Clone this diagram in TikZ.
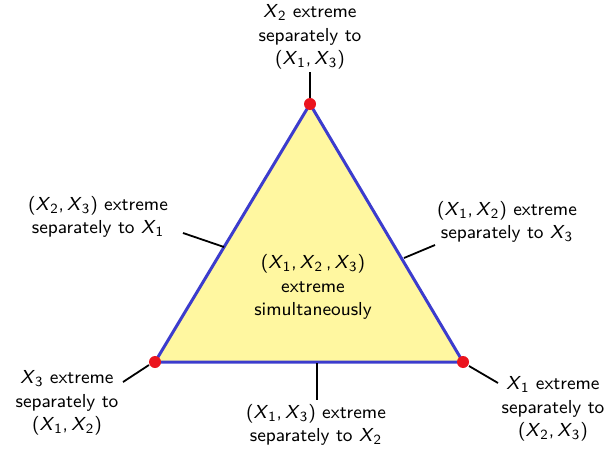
\documentclass[tikz,border=0pt]{standalone}
\usepackage{tikz}
\newcommand{\xx}[1]{\textit{X}$_{\mathsf{#1}}$}
\definecolor{triyellow}{RGB}{255,247,160}
\definecolor{triblue}{RGB}{60,60,205}
\definecolor{dotred}{RGB}{235,20,30}
\begin{document}
\begin{tikzpicture}[x=0.5pt,y=-0.5pt,
  every node/.style={font=\sffamily\fontsize{9.4}{11.6}\selectfont},
  lbl/.style={align=center,inner sep=0pt},
  conn/.style={draw=black,line width=0.9pt},
  tri/.style={draw=triblue,fill=triyellow,line width=1.5pt,line join=miter},
  dot/.style={circle,fill=dotred,inner sep=0pt,minimum size=6pt}]
\useasboundingbox (0,0) rectangle (609,454);
\coordinate (T) at (310,104);
\coordinate (L) at (155,362);
\coordinate (R) at (463,362);
\draw[tri] (T) -- (R) -- (L) -- cycle;
% edge anchor points
\coordinate (eL) at (224,247);
\coordinate (eR) at (404,258);
\coordinate (eB) at (317,363);
\coordinate (cT) at (310,72);
\coordinate (cL) at (183,233);
\coordinate (cR) at (435,245);
\coordinate (cB) at (317,400);
\coordinate (cBL) at (123,382);
\coordinate (cBR) at (498,383);
\coordinate (dT) at (310,98);
\coordinate (dL) at (149,365);
\coordinate (dR) at (469,366);
\draw[conn] (dT) -- (cT);
\draw[conn] (eL) -- (cL);
\draw[conn] (eR) -- (cR);
\draw[conn] (eB) -- (cB);
\draw[conn] (dL) -- (cBL);
\draw[conn] (dR) -- (cBR);
\node[dot] (vT) at (T) {};
\node[dot] (vL) at (L) {};
\node[dot] (vR) at (R) {};
% labels
\node[lbl] (tT) at (310,37) {\xx2 extreme\\separately to\\(\xx1,\,\xx3)};
\node[lbl] (tL) at (98,217) {(\xx2,\,\xx3) extreme\\separately to \xx1};
\node[lbl] (tR) at (507,222) {(\xx1,\,\xx2) extreme\\separately to \xx3};
\node[lbl] (tC) at (313,287) {(\xx1,\,\xx2\,,\,\xx3)\\extreme\\simultaneously};
\node[lbl] (tBL) at (67,403) {\xx3 extreme\\separately to\\(\xx1,\,\xx2)};
\node[lbl] (tBR) at (553,409) {\xx1 extreme\\separately to\\(\xx2,\,\xx3)};
\node[lbl] (tB) at (316,425) {(\xx1,\,\xx3) extreme\\separately to \xx2};
\end{tikzpicture}
\end{document}
